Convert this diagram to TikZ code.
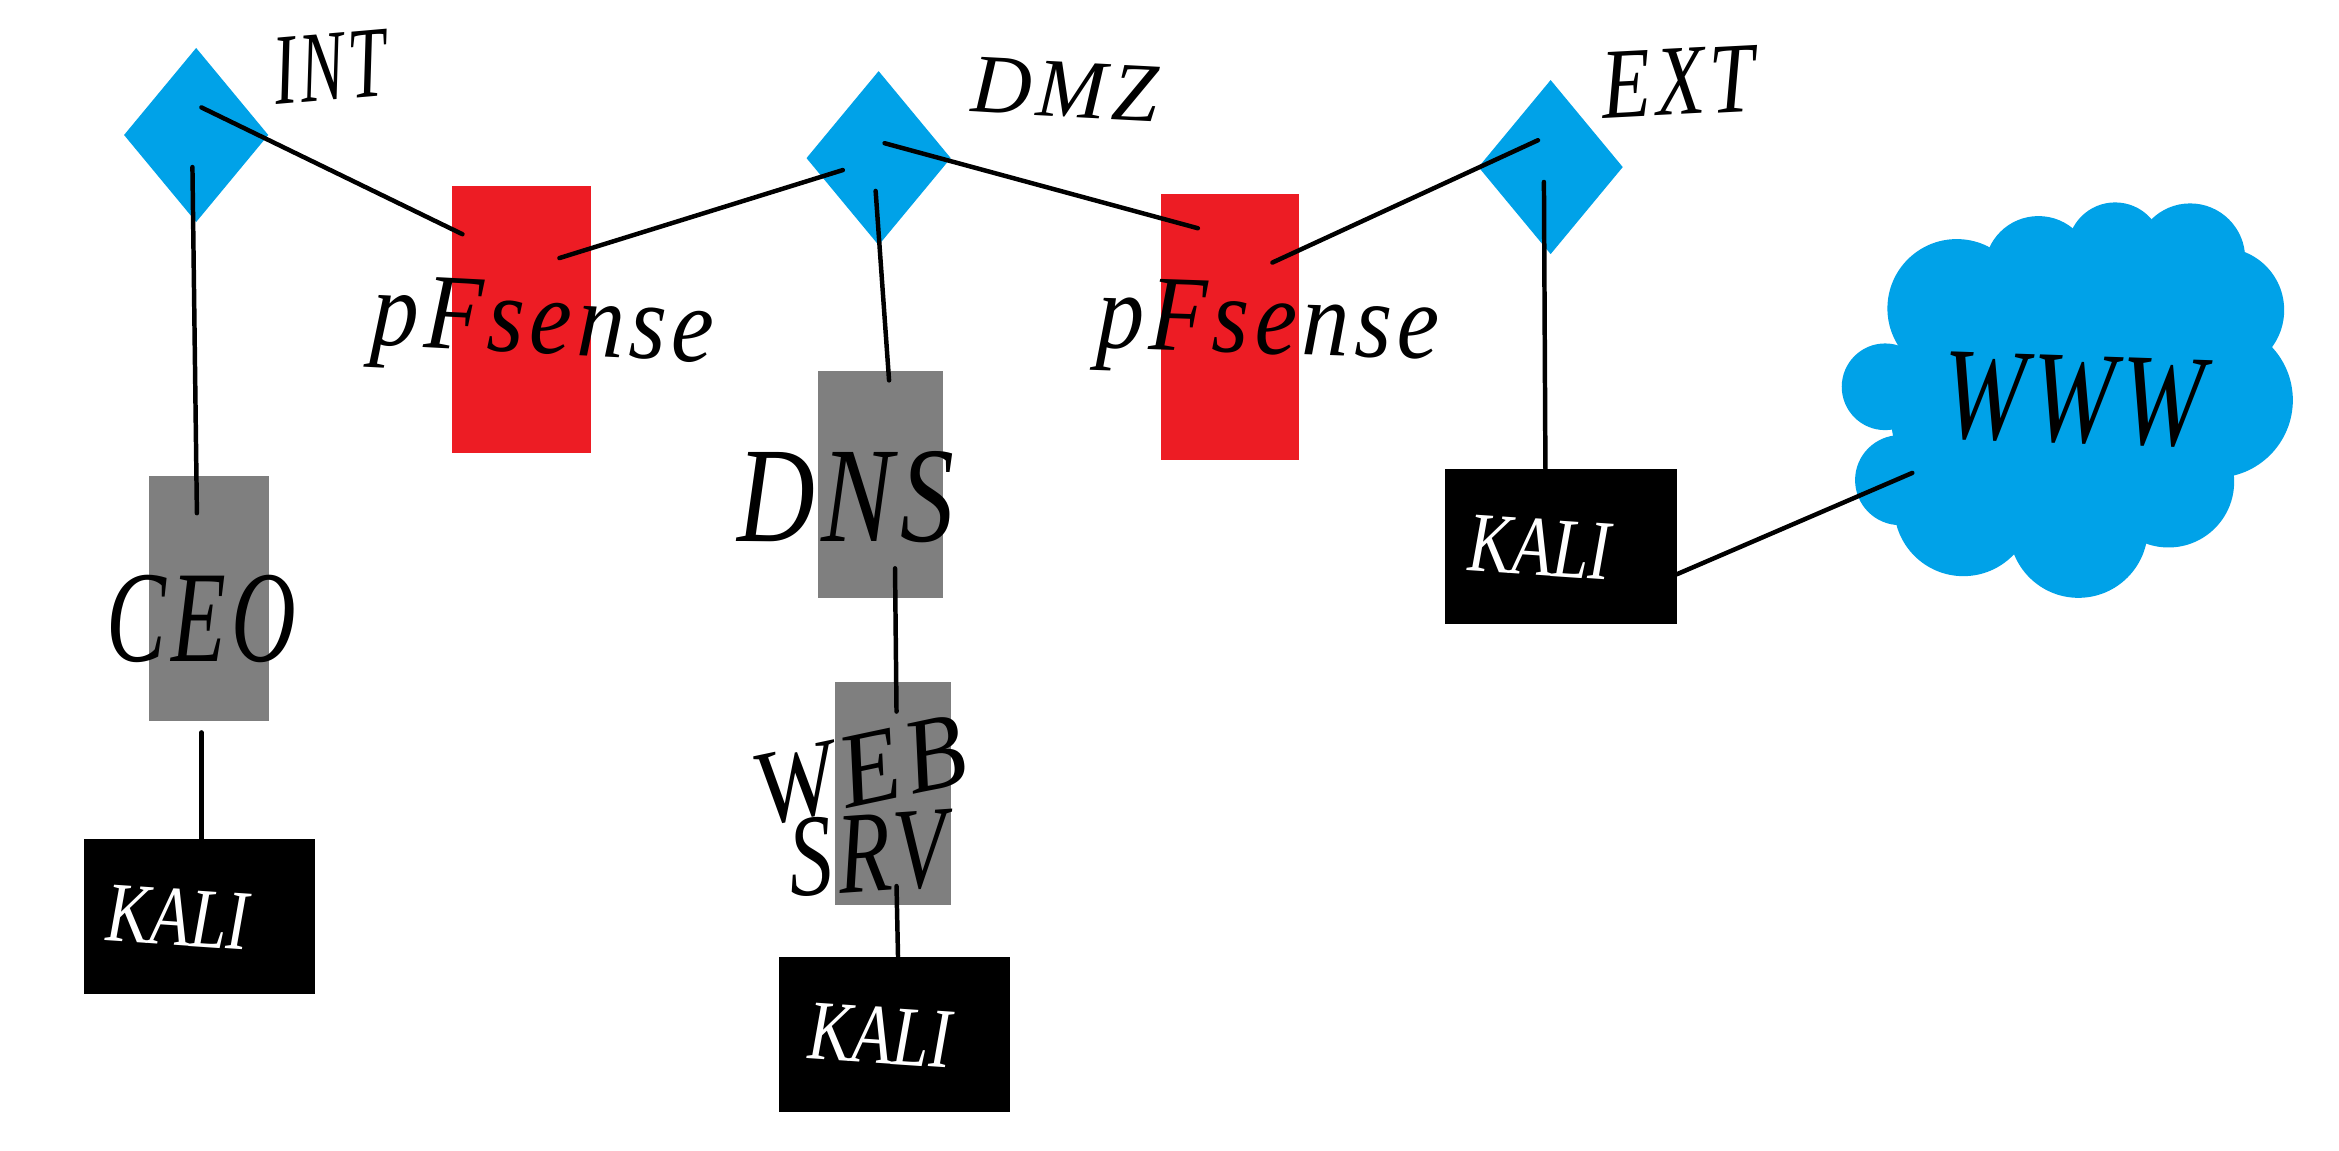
\documentclass[tikz,border=0pt]{standalone}
\usepackage{fontspec}
\setmainfont{Liberation Serif}
\usetikzlibrary{shapes.geometric}
\definecolor{netblue}{RGB}{0,162,232}
\definecolor{fwred}{RGB}{237,28,36}
\definecolor{hostgrey}{RGB}{127,127,127}
\tikzset{
  zone/.style={diamond,fill=netblue,inner sep=0pt,minimum width=48.5pt,minimum height=58.5pt,aspect=1},
  wire/.style={line width=1.5pt,black,line cap=round},
  hand/.style={font=\fontsize{#1}{#1}\selectfont\itshape\addfontfeature{LetterSpace=6},inner sep=0pt,text=black,transform shape},
  kalitext/.style={font=\fontsize{22}{22}\selectfont\itshape,inner sep=0pt,text=white,transform shape,yscale=1.3},
  puff/.style={fill=netblue,draw=none}
}
\begin{document}
\begin{tikzpicture}[x=0.5pt,y=-0.5pt]
\useasboundingbox (0,0) rectangle (1568,771);
\fill[white] (0,0) rectangle (1568,771);
% zones
\node[zone] (int) at (131.5,90.5) {};
\node[zone] (dmz) at (589,106) {};
\node[zone] (ext) at (1039.5,112) {};
% boxes
\fill[fwred] (303,125) rectangle (396,303.5);
\fill[fwred] (778,130) rectangle (870.5,308.5);
\fill[hostgrey] (100,319) rectangle (180,483.5);
\fill[hostgrey] (548.4,248.5) rectangle (632.2,400.7);
\fill[hostgrey] (559.8,457.2) rectangle (637.5,606.7);
\fill[black] (56,562.5) rectangle (211,666.5);
\fill[black] (522,641.5) rectangle (677,745.5);
\fill[black] (969,314.5) rectangle (1124,418.5);
% cloud
\begin{scope}[shift={(1206.7,114)},x=0.11175pt,y=-0.11175pt]
\fill[netblue] (255,650) -- (470,415) -- (715,300) -- (945,240) -- (1170,265) -- (1265,420) -- (1245,690) -- (1105,935) -- (835,1075) -- (490,1010) -- (300,930) -- cycle;
\foreach \cx/\cy/\r in {255/650/130,300/930/135,490/1010/208,835/1075/208,1105/935/197,1245/690/233,1265/420/187,1170/265/165,945/240/143,715/300/162,470/415/208}{
  \fill[puff] (\cx,\cy) circle[radius=\r];
}
\end{scope}
% anchor points of the connectors
\coordinate (intA) at (129,112);
\coordinate (intB) at (135,72);
\coordinate (ceoT) at (132,344);
\coordinate (ceoB) at (135,491);
\coordinate (kAT) at (135,562);
\coordinate (fwAL) at (310,157);
\coordinate (fwAR) at (375,173);
\coordinate (dmzL) at (565,114);
\coordinate (dmzR) at (593,96);
\coordinate (dmzB) at (587,128);
\coordinate (fwBL) at (803,153);
\coordinate (fwBR) at (853,176);
\coordinate (extL) at (1031,94);
\coordinate (extB) at (1035,122);
\coordinate (kCT) at (1036,314);
\coordinate (kCR) at (1124,385);
\coordinate (wwwL) at (1282,317);
\coordinate (dnsT) at (596,255);
\coordinate (dnsB) at (600,381);
\coordinate (webT) at (601,477);
\coordinate (webB) at (601,594);
\coordinate (kBT) at (602,641);
% connectors
\draw[wire] (intA) -- (ceoT);
\draw[wire] (intB) -- (fwAL);
\draw[wire] (fwAR) -- (dmzL);
\draw[wire] (dmzR) -- (fwBL);
\draw[wire] (fwBR) -- (extL);
\draw[wire] (dmzB) -- (dnsT);
\draw[wire] (extB) -- (kCT);
\draw[wire] (ceoB) -- (kAT);
\draw[wire] (dnsB) -- (webT);
\draw[wire] (webB) -- (kBT);
\draw[wire] (kCR) -- (wwwL);
% labels
\node[hand=26,rotate=5,xscale=.87,yscale=1.3] (lint) at (221,45) {INT};
\node[hand=28,rotate=-3] (ldmz) at (714,60) {DMZ};
\node[hand=30,rotate=3,xscale=.9,yscale=1.12] (lext) at (1125,55) {EXT};
\node[hand=38,rotate=-3,xscale=.83,yscale=.95] (lfwa) at (364,221) {pFsense};
\node[hand=38,rotate=-2,xscale=.83,yscale=.95] (lfwb) at (850,221) {pFsense};
\node[hand=38,xscale=.79,yscale=1.15] (lceo) at (135,415) {CEO};
\node[hand=38,xscale=.95,yscale=1.2] (ldns) at (567,333) {DNS};
\node[hand=34,rotate=12,xscale=.97,yscale=1.05] (lweb) at (576,517) {WEB};
\node[hand=34,rotate=4,xscale=.86,yscale=1.15] (lsrv) at (582,572) {SRV};
\node[hand=44,rotate=-2,xscale=.76] (lwww) at (1390,268) {WWW};
\node[kalitext,rotate=-3] (lka) at (119,615) {KALI};
\node[kalitext,rotate=-3] (lkb) at (590,694) {KALI};
\node[kalitext,rotate=-3] (lkc) at (1032,367) {KALI};
\end{tikzpicture}
\end{document}
